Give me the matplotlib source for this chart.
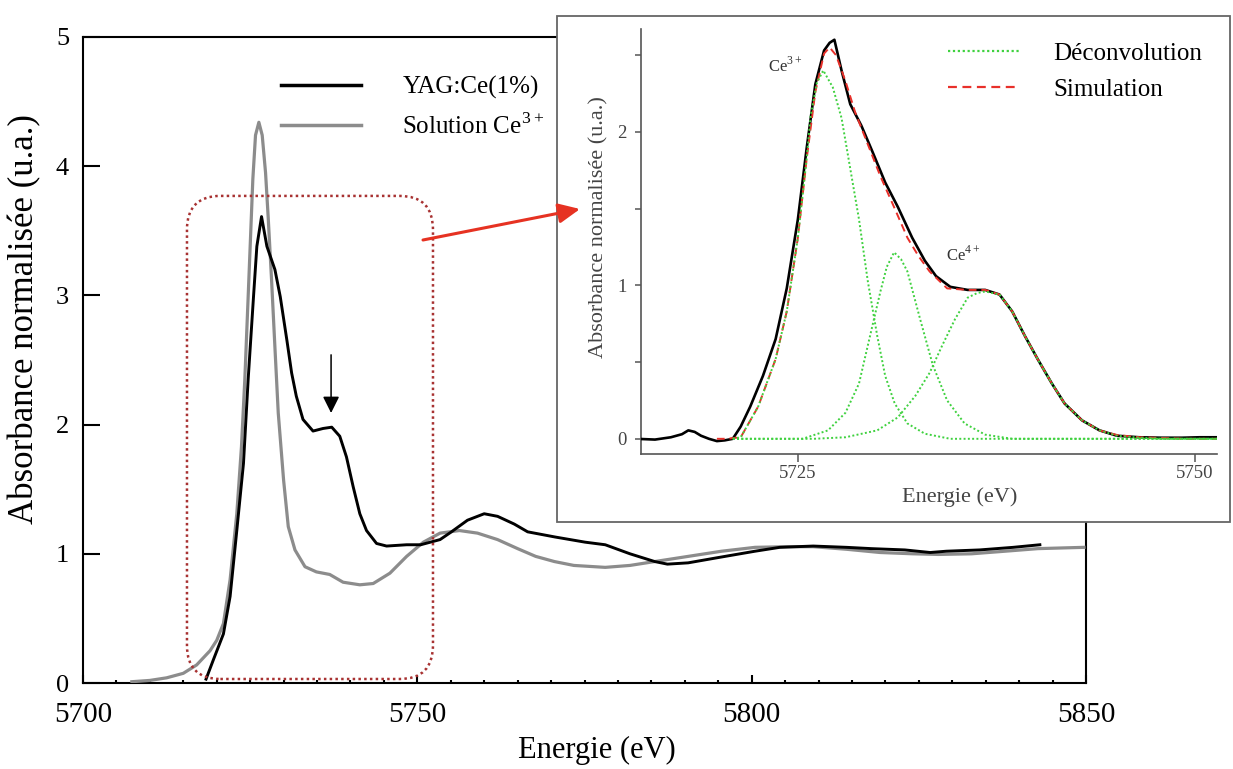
import matplotlib
matplotlib.use('Agg')
import matplotlib.pyplot as plt
from matplotlib.patches import FancyBboxPatch, Rectangle, FancyArrowPatch
from matplotlib.lines import Line2D
from matplotlib.ticker import MultipleLocator, FixedLocator

plt.rcParams['font.family'] = ['Liberation Serif', 'DejaVu Serif']
plt.rcParams['mathtext.fontset'] = 'custom'
plt.rcParams['mathtext.rm'] = 'Liberation Serif'

# ---- main spectra ----
yag_energy = [5718.4, 5719.5, 5721.0, 5722.0, 5723.0, 5724.0, 5724.7, 5725.5, 5726.0, 5726.7,
              5727.5, 5728.7, 5729.5, 5730.5, 5731.2, 5731.9, 5732.9, 5734.4, 5735.9, 5737.2,
              5738.4, 5739.4, 5740.4, 5741.4, 5742.4, 5743.9, 5745.4, 5748.4, 5750.5, 5753.4,
              5755.1, 5757.5, 5760.0, 5762.0, 5764.5, 5766.5, 5770.6, 5775.1, 5778.1, 5781.8,
              5785.5, 5787.4, 5790.5, 5794.9, 5800.5, 5804.2, 5809.2, 5814.2, 5817.9, 5822.9,
              5826.7, 5829.1, 5834.1, 5839.1, 5843.1]
yag_abs = [0.03, 0.18, 0.38, 0.67, 1.18, 1.70, 2.35, 2.99, 3.38, 3.61,
           3.38, 3.20, 2.99, 2.65, 2.40, 2.22, 2.04, 1.95, 1.97, 1.98,
           1.91, 1.75, 1.52, 1.31, 1.18, 1.08, 1.06, 1.07, 1.07, 1.11,
           1.17, 1.26, 1.31, 1.29, 1.23, 1.17, 1.13, 1.09, 1.07, 1.00,
           0.94, 0.92, 0.93, 0.97, 1.02, 1.05, 1.06, 1.05, 1.04, 1.03,
           1.01, 1.02, 1.03, 1.05, 1.07]

sol_energy = [5707.3, 5710.0, 5712.5, 5715.0, 5717.0, 5719.0, 5720.0, 5721.0, 5722.0, 5723.0,
              5723.7, 5724.2, 5724.7, 5725.1, 5725.4, 5725.8, 5726.3, 5726.8, 5727.3, 5727.7,
              5728.2, 5728.7, 5729.2, 5730.0, 5730.7, 5731.7, 5733.2, 5734.9, 5736.9, 5738.9,
              5741.4, 5743.4, 5745.9, 5748.4, 5750.9, 5753.4, 5756.3, 5759.0, 5762.0, 5765.0,
              5767.7, 5770.5, 5773.4, 5778.1, 5781.8, 5785.5, 5790.5, 5795.5, 5800.5, 5805.4,
              5809.2, 5814.2, 5819.2, 5824.1, 5827.9, 5832.9, 5837.9, 5842.8, 5849.7]
sol_abs = [0.01, 0.02, 0.04, 0.075, 0.14, 0.25, 0.33, 0.46, 0.80, 1.31,
           1.83, 2.35, 2.99, 3.51, 3.90, 4.24, 4.34, 4.24, 3.95, 3.60,
           3.12, 2.60, 2.09, 1.57, 1.21, 1.03, 0.90, 0.86, 0.84, 0.78,
           0.76, 0.77, 0.85, 0.98, 1.09, 1.16, 1.18, 1.16, 1.11, 1.04,
           0.98, 0.94, 0.91, 0.895, 0.91, 0.94, 0.98, 1.02, 1.05, 1.055,
           1.055, 1.035, 1.01, 1.00, 0.995, 1.00, 1.02, 1.04, 1.05]

# ---- inset: deconvolution ----
exp_energy = [5714.8, 5716.0, 5717.0, 5717.7, 5718.1, 5718.5, 5718.9, 5719.4, 5719.9, 5720.4,
              5720.9, 5721.4, 5722.0, 5722.8, 5723.6, 5724.3, 5725.0, 5725.55, 5726.1, 5726.65,
              5727.0, 5727.3, 5727.75, 5728.3, 5729.0, 5729.7, 5730.5, 5731.3, 5732.2, 5733.0,
              5733.7, 5734.6, 5735.7, 5736.8, 5737.7, 5738.5, 5739.3, 5740.1, 5741.0, 5741.8,
              5742.9, 5744.0, 5745.1, 5746.5, 5747.9, 5749.2, 5750.3, 5751.4]
exp_abs = [0.0, -0.005, 0.01, 0.03, 0.055, 0.045, 0.02, 0.0, -0.015, -0.01,
           0.0, 0.08, 0.21, 0.41, 0.65, 0.98, 1.43, 1.89, 2.31, 2.53,
           2.58, 2.60, 2.40, 2.18, 2.04, 1.87, 1.67, 1.51, 1.31, 1.16,
           1.06, 0.99, 0.97, 0.97, 0.94, 0.83, 0.67, 0.52, 0.36, 0.23,
           0.12, 0.055, 0.02, 0.01, 0.007, 0.007, 0.01, 0.01]

sim_energy = [5719.9, 5720.5, 5721.4, 5722.5, 5723.6, 5724.3, 5725.0, 5725.55, 5726.1, 5726.65,
              5727.0, 5727.4, 5728.0, 5728.6, 5729.4, 5730.2, 5731.1, 5731.9, 5732.6, 5733.3,
              5734.4, 5735.7, 5736.8, 5737.7, 5738.5, 5739.3, 5740.1, 5741.0, 5741.8, 5742.9,
              5744.0, 5745.1, 5746.5, 5748.0, 5749.5, 5751.4]
sim_abs = [0.0, 0.0, 0.01, 0.21, 0.52, 0.83, 1.31, 1.82, 2.26, 2.51,
           2.55, 2.50, 2.33, 2.13, 1.92, 1.71, 1.50, 1.31, 1.19, 1.09,
           0.98, 0.97, 0.97, 0.94, 0.83, 0.67, 0.52, 0.36, 0.23, 0.12,
           0.055, 0.025, 0.01, 0.005, 0.0, 0.0]

g1_energy = [5720.9, 5721.4, 5722.5, 5723.6, 5724.3, 5725.0, 5725.55, 5725.8, 5726.2, 5726.6,
             5727.2, 5727.75, 5728.3, 5728.85, 5729.4, 5730.0, 5730.5, 5731.1, 5731.9, 5733.0,
             5734.6, 5751.4]
g1_abs = [0.0, 0.01, 0.21, 0.52, 0.83, 1.31, 1.82, 2.10, 2.32, 2.40,
          2.29, 2.09, 1.76, 1.43, 1.03, 0.67, 0.41, 0.23, 0.10, 0.033,
          0.0, 0.0]
g2_energy = [5720.9, 5725.3, 5726.9, 5728.0, 5728.85, 5729.5, 5730.2, 5730.6, 5731.06, 5731.5,
             5731.9, 5732.7, 5733.5, 5734.4, 5735.5, 5736.8, 5738.5, 5751.4]
g2_abs = [0.0, 0.0, 0.055, 0.17, 0.36, 0.65, 0.96, 1.12, 1.215, 1.17,
          1.09, 0.78, 0.48, 0.25, 0.10, 0.027, 0.0, 0.0]
g3_energy = [5720.9, 5726.0, 5728.0, 5730.0, 5731.3, 5732.4, 5733.3, 5734.1, 5734.9, 5735.7,
             5736.3, 5736.8, 5737.7, 5738.5, 5739.3, 5740.1, 5741.0, 5741.8, 5742.9, 5744.0,
             5745.1, 5746.5, 5748.0, 5751.4]
g3_abs = [0.0, 0.0, 0.01, 0.055, 0.14, 0.28, 0.43, 0.61, 0.78, 0.92,
          0.95, 0.96, 0.94, 0.83, 0.67, 0.52, 0.36, 0.23, 0.12, 0.055,
          0.02, 0.007, 0.0, 0.0]

main_labels = ['YAG:Ce(1%)', r'Solution Ce$^{\mathrm{3+}}$']
inset_labels = ['Déconvolution', 'Simulation']

W, H = 1233, 769
fig = plt.figure(figsize=(W / 100, H / 100), dpi=100)


def px_box(l, t, r, b):
    # pixel box (from top-left) -> figure fraction rect
    return [l / W, 1 - b / H, (r - l) / W, (b - t) / H]


def fpx(x, y):
    return (x / W, 1 - y / H)


# ---------------- main axes ----------------
ax = fig.add_axes(px_box(83, 37, 1086, 683))
ax.plot(sol_energy, sol_abs, color='#8c8c8c', lw=2.3, zorder=3)
ax.plot(yag_energy, yag_abs, color='black', lw=2.1, zorder=4)
ax.set_xlim(5700, 5850)
ax.set_ylim(0, 5)
ax.xaxis.set_major_locator(MultipleLocator(50))
ax.xaxis.set_minor_locator(MultipleLocator(5))
ax.yaxis.set_major_locator(MultipleLocator(1))
ax.tick_params(axis='x', which='major', direction='in', length=6, width=1.5, labelsize=21, pad=14)
ax.tick_params(axis='x', which='minor', direction='in', length=2.5, width=1.5)
ax.tick_params(axis='y', which='major', direction='in', length=12, width=1.5, labelsize=19, pad=10)
for s in ax.spines.values():
    s.set_linewidth(1.5)
ax.set_xlabel('Energie (eV)', fontsize=22, va='center')
ax.xaxis.set_label_coords(0.512, -0.105)
ax.set_ylabel('Absorbance normalisée (u.a.)', fontsize=25, va='center')
ax.yaxis.set_label_coords(-0.058, 0.563)

handles = [Line2D([], [], color='black', lw=2.5), Line2D([], [], color='#8c8c8c', lw=2.5)]
ax.legend(handles, main_labels, loc='upper left', bbox_to_anchor=fpx(281, 76),
          bbox_transform=fig.transFigure, frameon=False, fontsize=18,
          handlelength=3.2, handletextpad=1.65, borderpad=0, borderaxespad=0, labelspacing=0.55)

# zoom region (rounded dotted box)
zoom_box = FancyBboxPatch((5715.55, 0.031), 5752.34 - 5715.55, 3.77 - 0.031,
                          boxstyle='round,pad=0,rounding_size=5.0', mutation_aspect=0.052,
                          fill=False, edgecolor='#a83232', lw=1.8, linestyle=(0, (1, 1.3)), zorder=5)
ax.add_patch(zoom_box)

# arrow pointing at the Ce4+ shoulder
ax.annotate('', xy=(5737.1, 2.09), xytext=(5737.1, 2.54),
            arrowprops=dict(arrowstyle='-|>,head_length=1.0,head_width=0.5',
                            color='black', lw=1.1, shrinkA=0, shrinkB=0), zorder=6)

# ---------------- inset ----------------
frame = Rectangle(fpx(557, 522), (1230 - 557) / W, (522 - 15.7) / H, transform=fig.transFigure,
                  facecolor='white', edgecolor='#666666', lw=1.3, zorder=2)
fig.add_artist(frame)

axi = fig.add_axes(px_box(640.7, 29, 1217, 454), zorder=3)
axi.patch.set_alpha(0)
axi.plot(exp_energy, exp_abs, color='black', lw=1.9, zorder=3)
axi.plot(sim_energy, sim_abs, color='#e8302a', lw=1.4, dashes=(4, 2.5), zorder=4)
for ge, ga in [(g1_energy, g1_abs), (g2_energy, g2_abs), (g3_energy, g3_abs)]:
    axi.plot(ge, ga, color='#3fd13f', lw=1.4, linestyle=(0, (1, 1.2)), zorder=5)
axi.set_xlim(5715.1, 5751.4)
axi.set_ylim(-0.099, 2.67)
axi.spines['top'].set_visible(False)
axi.spines['right'].set_visible(False)
for s in ['left', 'bottom']:
    axi.spines[s].set_color('#555555')
    axi.spines[s].set_linewidth(1.2)
axi.xaxis.set_major_locator(FixedLocator([5725, 5750]))
axi.yaxis.set_major_locator(FixedLocator([0, 1, 2]))
axi.yaxis.set_minor_locator(FixedLocator([0.5, 1.5, 2.5]))
axi.tick_params(axis='x', direction='out', length=6, width=1.1, color='#555555',
                labelsize=13.5, labelcolor='#444444', pad=2)
axi.tick_params(axis='y', which='both', direction='out', length=4, width=1.1, color='#555555',
                labelsize=13.5, labelcolor='#444444', pad=6)
axi.set_xlabel('Energie (eV)', fontsize=16, color='#444444', va='center')
axi.xaxis.set_label_coords(0.554, -0.101)
axi.set_ylabel('Absorbance normalisée (u.a.)', fontsize=16, color='#444444', va='center')
axi.yaxis.set_label_coords(-0.0724, 0.533)
axi.text(5724.2, 2.43, r'Ce$^{\mathrm{3+}}$', fontsize=12, color='#333333', ha='center', va='center')
axi.text(5735.4, 1.20, r'Ce$^{\mathrm{4+}}$', fontsize=12, color='#333333', ha='center', va='center')

ihandles = [Line2D([], [], color='#3fd13f', lw=1.6, linestyle=(0, (1, 1.2))),
            Line2D([], [], color='#e8302a', lw=1.6, dashes=(4, 2.5))]
axi.legend(ihandles, inset_labels, loc='upper left', bbox_to_anchor=fpx(948, 42),
           bbox_transform=fig.transFigure, frameon=False, fontsize=18,
           handlelength=2.9, handletextpad=1.3, borderpad=0, borderaxespad=0, labelspacing=0.55)

# red arrow from the zoom box to the inset
fig.add_artist(FancyArrowPatch(fpx(423, 240), fpx(580, 209), transform=fig.transFigure,
                               arrowstyle='-|>,head_length=1.3,head_width=0.6', mutation_scale=10,
                               color='#e63222', lw=2.2, shrinkA=0, shrinkB=0, zorder=4))

fig.savefig('out.png', dpi=100)
